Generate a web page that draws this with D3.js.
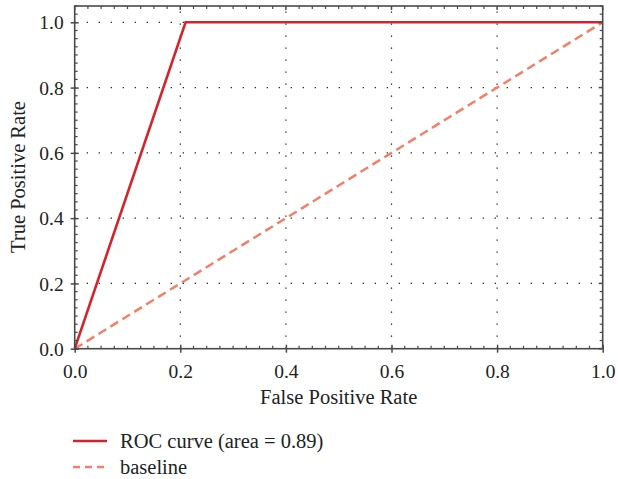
<!DOCTYPE html>
<html>
<head>
<meta charset="utf-8">
<script src="https://cdn.jsdelivr.net/npm/d3@7"></script>
<style>
  html, body { margin: 0; padding: 0; background: #fff; }
  svg { display: block; }
  text { font-family: "Liberation Serif", "DejaVu Serif", serif; fill: #222; }
</style>
</head>
<body>
<script>
// ROC curve points (false positive rate, true positive rate)
const rocFpr = [0.0, 0.21, 1.0];
const rocTpr = [0.0, 1.0, 1.0];
// Chance-level diagonal
const baseFpr = [0.0, 1.0];
const baseTpr = [0.0, 1.0];
const tickValues = [0.0, 0.2, 0.4, 0.6, 0.8, 1.0];
const legendLabels = ["ROC curve (area = 0.89)", "baseline"];

const W = 618, H = 479;
const margin = { left: 74.7, right: 15.3, top: 6, bottom: 130.3 };
const iw = W - margin.left - margin.right;
const ih = H - margin.top - margin.bottom;

const svg = d3.select("body").append("svg").attr("width", W).attr("height", H);
const g = svg.append("g").attr("transform", `translate(${margin.left},${margin.top})`);

const x = d3.scaleLinear().domain([0, 1]).range([0, iw]);
const y = d3.scaleLinear().domain([0, 1.05]).range([ih, 0]);

const axisColor = "#4a4a4a";
const tickFont = 19.5;
const titleFont = 20.5;
const minorVals = d3.range(0, 1.0001, 0.025).filter(v => Math.abs(v * 5 - Math.round(v * 5)) > 1e-6);

// dotted grid at major ticks
const grid = g.append("g");
grid.selectAll("line.vx").data(tickValues.slice(1, -1)).join("line")
  .attr("x1", d => x(d)).attr("x2", d => x(d)).attr("y1", ih).attr("y2", 0)
  .attr("stroke", "#111").attr("stroke-width", 1.2).attr("stroke-dasharray", "1.2,10.8");
grid.selectAll("line.hy").data(tickValues.slice(1)).join("line")
  .attr("x1", 0).attr("x2", iw).attr("y1", d => y(d)).attr("y2", d => y(d))
  .attr("stroke", "#111").attr("stroke-width", 1.2).attr("stroke-dasharray", "1.2,10.8");

// series
const line = d3.line().x(d => x(d[0])).y(d => y(d[1]));
g.append("path").datum(baseFpr.map((v, i) => [v, baseTpr[i]]))
  .attr("d", line).attr("fill", "none").attr("stroke", "#f47f68")
  .attr("stroke-width", 2.5).attr("stroke-dasharray", "9,5");
g.append("path").datum(rocFpr.map((v, i) => [v, rocTpr[i]]))
  .attr("d", line).attr("fill", "none").attr("stroke", "#d6232b")
  .attr("stroke-width", 2.6).attr("stroke-linejoin", "miter");

// frame
g.append("rect").attr("x", 0).attr("y", 0).attr("width", iw).attr("height", ih)
  .attr("fill", "none").attr("stroke", axisColor).attr("stroke-width", 1.6);

// axes
function styleAxis(sel) {
  sel.select(".domain").remove();
  sel.selectAll(".tick line").attr("stroke", axisColor).attr("stroke-width", 1.5);
  sel.selectAll(".tick text").attr("font-size", tickFont).attr("fill", "#222")
    .style("font-family", '"Liberation Serif", "DejaVu Serif", serif');
}
const fmt = d3.format(".1f");

const xAxis = g.append("g").attr("transform", `translate(0,${ih})`)
  .call(d3.axisBottom(x).tickValues(tickValues).tickFormat(fmt).tickSizeInner(4).tickSizeOuter(0).tickPadding(11));
styleAxis(xAxis);
xAxis.selectAll(".tick line").attr("y1", -4).attr("y2", 4);

const yAxis = g.append("g")
  .call(d3.axisLeft(y).tickValues(tickValues).tickFormat(fmt).tickSizeInner(4).tickSizeOuter(0).tickPadding(7));
styleAxis(yAxis);
yAxis.selectAll(".tick line").attr("x1", 4).attr("x2", -4);
yAxis.selectAll(".tick text").attr("dy", "0.34em");

// minor ticks (inward) on all four sides
const minorY = d3.range(0, 1.0501, 0.025).filter(v => Math.abs(v * 5 - Math.round(v * 5)) > 1e-6);
const mt = g.append("g").attr("stroke", axisColor).attr("stroke-width", 1.2);
mt.selectAll("line.mb").data(minorVals).join("line")
  .attr("x1", d => x(d)).attr("x2", d => x(d)).attr("y1", ih).attr("y2", ih - 3);
mt.selectAll("line.mt").data(minorVals).join("line")
  .attr("x1", d => x(d)).attr("x2", d => x(d)).attr("y1", 0).attr("y2", 3);
mt.selectAll("line.ml").data(minorY).join("line")
  .attr("x1", 0).attr("x2", 3).attr("y1", d => y(d)).attr("y2", d => y(d));
mt.selectAll("line.mr").data(minorY).join("line")
  .attr("x1", iw).attr("x2", iw - 3).attr("y1", d => y(d)).attr("y2", d => y(d));
// major ticks on top/right
mt.selectAll("line.Mt").data(tickValues).join("line")
  .attr("x1", d => x(d)).attr("x2", d => x(d)).attr("y1", 0).attr("y2", 4).attr("stroke-width", 1.5);
mt.selectAll("line.Mr").data(tickValues).join("line")
  .attr("x1", iw).attr("x2", iw - 4).attr("y1", d => y(d)).attr("y2", d => y(d)).attr("stroke-width", 1.5);

// axis titles
svg.append("text").attr("x", margin.left + iw / 2).attr("y", 404)
  .attr("text-anchor", "middle").attr("font-size", titleFont).text("False Positive Rate");
svg.append("text").attr("transform", `translate(25,177) rotate(-90)`)
  .attr("text-anchor", "middle").attr("font-size", titleFont).text("True Positive Rate");

// legend
const legend = svg.append("g").attr("transform", "translate(73,0)");
const legendStyles = [
  { color: "#d6232b", dash: null },
  { color: "#f47f68", dash: "7,5" }
];
legendLabels.forEach((label, i) => {
  const cy = 441 + i * 26;
  legend.append("line").attr("x1", 0).attr("x2", 34).attr("y1", cy).attr("y2", cy)
    .attr("stroke", legendStyles[i].color).attr("stroke-width", 2.6)
    .attr("stroke-dasharray", legendStyles[i].dash);
  legend.append("text").attr("x", 47).attr("y", cy).attr("dy", "0.33em")
    .attr("font-size", titleFont).text(label);
});
</script>
</body>
</html>
